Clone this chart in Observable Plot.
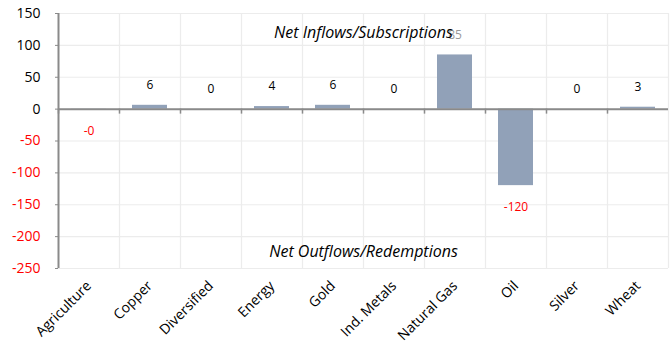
<!DOCTYPE html>
<html>
<head>
<meta charset="utf-8">
<script src="https://cdn.jsdelivr.net/npm/d3@7"></script>
<script src="https://cdn.jsdelivr.net/npm/@observablehq/plot@0.6"></script>
<style>
  html, body { margin: 0; padding: 0; background: #fff; }
  svg { font-family: "Open Sans", sans-serif; }
</style>
</head>
<body>
<div id="chart"></div>
<script>
const categories = ["Agriculture", "Copper", "Diversified", "Energy", "Gold", "Ind. Metals", "Natural Gas", "Oil", "Silver", "Wheat"];
const flows = [-0.2, 6, 0, 4, 6, 0, 85, -120, 0, 3];
const posTicks = [0, 50, 100, 150];
const negTicks = [-50, -100, -150, -200, -250];
const topNote = "Net Inflows/Subscriptions";
const bottomNote = "Net Outflows/Redemptions";

const data = categories.map((c, i) => ({cat: c, v: flows[i]}));
const fmt = v => v < 0 ? "-" + Math.abs(Math.round(v)) : String(Math.round(v));

const W = 672, H = 345, mL = 58, mR = 4, mT = 13, mB = 77;
const step = (W - mL - mR) / categories.length;

const chart = Plot.plot({
  width: W, height: H,
  marginLeft: mL, marginRight: mR, marginTop: mT, marginBottom: mB,
  style: {fontFamily: "Open Sans, sans-serif", background: "#fff"},
  x: {domain: categories, paddingInner: 0.43, paddingOuter: 0.215, label: null},
  y: {domain: [-250, 150], label: null},
  marks: [
    Plot.ruleY([...posTicks, ...negTicks], {stroke: "#ececec", strokeWidth: 1.2}),
    Plot.ruleX(categories, {x: d => d, dx: -step / 2, stroke: "#ececec", strokeWidth: 1.2}),
    Plot.ruleX([categories[categories.length - 1]], {x: d => d, dx: step / 2, stroke: "#ececec", strokeWidth: 1.2}),
    Plot.barY(data, {x: "cat", y: "v", fill: "#91a1b8"}),
    Plot.ruleY([0], {stroke: "#8a8a8a", strokeWidth: 2}),
    Plot.ruleX(categories, {x: d => d, y1: 0, y2: 0, dx: -step / 2, insetBottom: -5, stroke: "#8a8a8a", strokeWidth: 1.5}),
    Plot.ruleX([categories[0]], {x: d => d, dx: -step / 2, stroke: "#8a8a8a", strokeWidth: 2}),
    Plot.axisY({ticks: posTicks, tickSize: 3, tickPadding: 15, stroke: "#8a8a8a", fill: "#000", fontSize: 14, tickFormat: fmt}),
    Plot.axisY({ticks: negTicks, tickSize: 3, tickPadding: 15, stroke: "#8a8a8a", fill: "#ff0000", fontSize: 14, tickFormat: fmt}),
    Plot.axisX({tickRotate: -45, tickSize: 0, tickPadding: 15, fontSize: 14, fill: "#000"}),
    Plot.text(data.filter(d => d.v >= 0 && d.cat !== "Natural Gas"), {x: "cat", y: "v", text: d => fmt(d.v), dy: -20, fontSize: 12, fill: "#000"}),
    Plot.text(data.filter(d => d.cat === "Natural Gas"), {x: "cat", y: "v", text: d => fmt(d.v), dy: -20, fontSize: 12, fill: "#999"}),
    Plot.text(data.filter(d => d.v < 0), {x: "cat", y: "v", text: d => fmt(d.v), dy: 22, fontSize: 12, fill: "#ff0000"}),
    Plot.text([topNote], {frameAnchor: "top", dy: 13, fontSize: 16, fontStyle: "italic", fill: "#000"}),
    Plot.text([bottomNote], {frameAnchor: "bottom", dy: -12, fontSize: 16, fontStyle: "italic", fill: "#000"})
  ]
});
document.getElementById("chart").appendChild(chart);
</script>
</body>
</html>
